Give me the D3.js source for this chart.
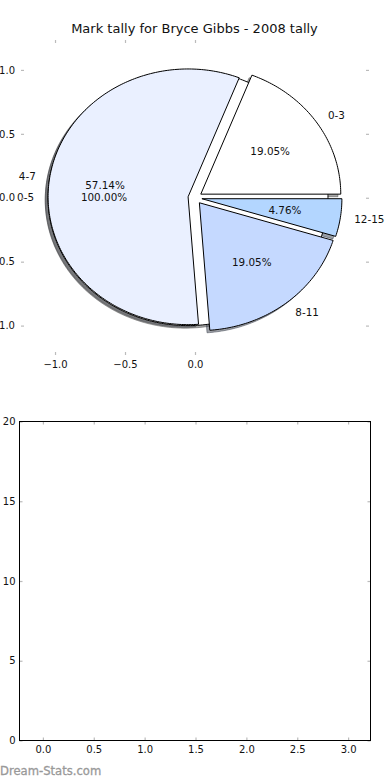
<!DOCTYPE html>
<html>
<head>
<meta charset="utf-8">
<script src="https://cdn.jsdelivr.net/npm/d3@7"></script>
<style>
  html, body { margin: 0; padding: 0; background: #fff; }
  svg { display: block; font-family: "DejaVu Sans", sans-serif; }
</style>
</head>
<body>
<svg id="chart" width="390" height="780"></svg>
<script>
// ---- data ----
const titleText = "Mark tally for Bryce Gibbs - 2008 tally";
const pie1Labels = ["0-5"];
const pie1Values = [1];
const pie1Colors = ["#ffffff"];
const pie2Labels = ["0-3", "4-7", "8-11", "12-15"];
const pie2Values = [4, 12, 4, 1];
const pie2Colors = ["#ffffff", "#eaf0ff", "#c5d9ff", "#b3d6ff"];
const explodeAmount = 0.05;
const pieXTicks = [-1.0, -0.5, 0.0];
const pieYTicks = [-1.0, -0.5, 0.0, 0.5, 1.0];
const barXTicks = [0.0, 0.5, 1.0, 1.5, 2.0, 2.5, 3.0];
const barYTicks = [0, 5, 10, 15, 20];
const watermark = "Dream-Stats.com";

const svg = d3.select("#chart");

// ---- title ----
svg.append("text").attr("x", 194.5).attr("y", 33).attr("text-anchor", "middle")
  .attr("font-size", 13).attr("fill", "#111").text(titleText);

// ---- pie axes scales ----
const px = d3.scaleLinear().domain([-1.243, 1.243]).range([21, 369]);
const py = d3.scaleLinear().domain([-1.23, 1.234]).range([355, 40]);
const line = d3.line().x(d => px(d[0])).y(d => py(d[1]));

function wedgeGeom(values, labels, colors) {
  const arcs = d3.pie().sort(null).value(d => d)(values);
  const total = d3.sum(values);
  return arcs.map((a, i) => {
    const t0 = a.startAngle / (2 * Math.PI) * 360;
    const t1 = a.endAngle / (2 * Math.PI) * 360;
    const mid = (t0 + t1) / 2 * Math.PI / 180;
    const cx = explodeAmount * Math.cos(mid), cy = explodeAmount * Math.sin(mid);
    const pts = [];
    const full = (t1 - t0) >= 359.999;
    if (!full) pts.push([cx, cy]);
    const n = Math.max(2, Math.ceil(t1 - t0));
    for (let k = 0; k <= n; k++) {
      const t = (t0 + (t1 - t0) * k / n) * Math.PI / 180;
      pts.push([cx + Math.cos(t), cy + Math.sin(t)]);
    }
    if (!full) pts.push([cx, cy]);
    return { pts, full, cx, cy, mid, color: colors[i], label: labels[i],
      pct: (100 * values[i] / total).toFixed(2) + "%" };
  });
}
const pie1 = wedgeGeom(pie1Values, pie1Labels, pie1Colors);
const pie2 = wedgeGeom(pie2Values, pie2Labels, pie2Colors);

function shadowColor(c) {
  const r = d3.rgb(c);
  return d3.rgb(r.r * 0.3, r.g * 0.3, r.b * 0.3).toString();
}
const gPie = svg.append("g");
// shadows
[...pie1, ...pie2].forEach(w => {
  const sp = w.pts.map(p => [p[0] - 0.02, p[1] - 0.02]);
  const sc = shadowColor(w.color);
  gPie.append("path").attr("d", line(sp) + "Z")
    .attr("fill", sc).attr("fill-opacity", 0.5)
    .attr("stroke", sc).attr("stroke-opacity", 0.5).attr("stroke-width", 1);
});
// wedges
[...pie1, ...pie2].forEach(w => {
  gPie.append("path").attr("d", line(w.pts) + "Z")
    .attr("fill", w.color).attr("stroke", "#000").attr("stroke-width", 1)
    .attr("stroke-linejoin", "miter");
});
// labels
[...pie1, ...pie2].forEach(w => {
  const lx = w.cx + 1.1 * Math.cos(w.mid), ly = w.cy + 1.1 * Math.sin(w.mid);
  gPie.append("text").attr("x", px(lx)).attr("y", py(ly)).attr("dy", "0.36em")
    .attr("text-anchor", lx > 0 ? "start" : "end")
    .attr("font-size", 10.4).attr("fill", "#111").text(w.label);
  const tx = w.cx + 0.6 * Math.cos(w.mid), ty = w.cy + 0.6 * Math.sin(w.mid);
  gPie.append("text").attr("x", px(tx)).attr("y", py(ty)).attr("dy", "0.36em")
    .attr("text-anchor", "middle")
    .attr("font-size", 10.4).attr("fill", "#111").text(w.pct);
});

function styleAxis(g) {
  g.select(".domain").remove();
  g.selectAll(".tick line").attr("stroke", "#bbb").attr("stroke-width", 1.2);
  g.selectAll(".tick text").attr("fill", "#111").attr("font-size", 10)
    .attr("font-family", "DejaVu Sans, sans-serif");
}
const fmt = d3.format(".1f");
// pie axes ticks (no frame)
svg.append("g").attr("transform", "translate(0,355)")
  .call(d3.axisBottom(px).tickValues(pieXTicks).tickFormat(fmt).tickSize(-3).tickPadding(6)).call(styleAxis);
svg.append("g").attr("transform", "translate(0,40)")
  .call(d3.axisTop(px).tickValues(pieXTicks).tickFormat("").tickSize(-3)).call(styleAxis);
svg.append("g").attr("transform", "translate(21,0)")
  .call(d3.axisLeft(py).tickValues(pieYTicks).tickFormat(fmt).tickSize(-3).tickPadding(6)).call(styleAxis);
svg.append("g").attr("transform", "translate(369,0)")
  .call(d3.axisRight(py).tickValues(pieYTicks).tickFormat("").tickSize(-3)).call(styleAxis);

// ---- bottom (empty bar) axes ----
const bx = d3.scaleLinear().domain([-0.23, 3.22]).range([19.5, 370.5]);
const by = d3.scaleLinear().domain([0, 20]).range([740.5, 421.5]);
svg.append("g").attr("transform", "translate(0,740.5)")
  .call(d3.axisBottom(bx).tickValues(barXTicks).tickFormat(fmt).tickSize(-3).tickPadding(5)).call(styleAxis);
svg.append("g").attr("transform", "translate(0,421.5)")
  .call(d3.axisTop(bx).tickValues(barXTicks).tickFormat("").tickSize(-3)).call(styleAxis);
svg.append("g").attr("transform", "translate(19.5,0)")
  .call(d3.axisLeft(by).tickValues(barYTicks).tickFormat(d3.format("d")).tickSize(-3).tickPadding(4)).call(styleAxis);
svg.append("g").attr("transform", "translate(370.5,0)")
  .call(d3.axisRight(by).tickValues(barYTicks).tickFormat("").tickSize(-3)).call(styleAxis);
svg.append("rect").attr("x", bx.range()[0]).attr("y", by.range()[1])
  .attr("width", bx.range()[1] - bx.range()[0]).attr("height", by.range()[0] - by.range()[1])
  .attr("fill", "none").attr("stroke", "#000").attr("stroke-width", 1);

// ---- watermark ----
svg.append("text").attr("x", 0).attr("y", 775).attr("font-size", 11.6)
  .attr("font-weight", "normal").attr("fill", "#999").attr("stroke", "#999").attr("stroke-width", 0.3)
  .text(watermark);
</script>
</body>
</html>
